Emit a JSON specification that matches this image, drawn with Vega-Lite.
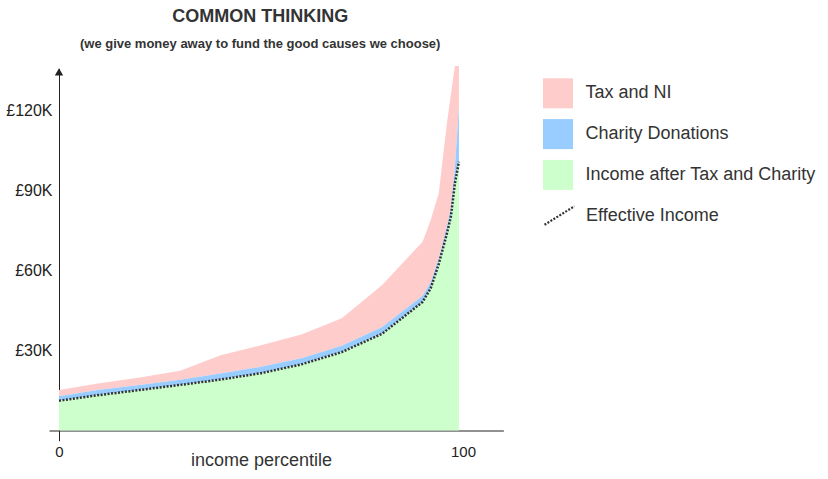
{
  "$schema": "https://vega.github.io/schema/vega-lite/v6.json",
  "autosize": {"type": "none"},
  "padding": {"left": 49, "top": 68.4, "right": 324.6, "bottom": 38.3},
  "width": 454.4,
  "height": 372.3,
  "config": {"font": "Liberation Sans", "view": {"stroke": null}},
  "title": {
    "text": "COMMON THINKING",
    "subtitle": "(we give money away to fund the good causes we choose)",
    "anchor": "middle",
    "frame": "group",
    "dx": -16,
    "dy": -11,
    "font": "Liberation Sans",
    "subtitleFont": "Liberation Sans",
    "fontSize": 18,
    "fontWeight": "bold",
    "subtitleFontSize": 13,
    "subtitleFontWeight": "bold",
    "color": "#333",
    "subtitleColor": "#333",
    "subtitlePadding": 12
  },
  "data": {
    "values": [
      {"percentile": 0, "gross_income": 15.2, "income_after_tax": 12.8, "income_after_tax_and_charity": 11.2, "effective_income": 11.2},
      {"percentile": 10, "gross_income": 17.7, "income_after_tax": 15.3, "income_after_tax_and_charity": 13.3, "effective_income": 13.3},
      {"percentile": 20, "gross_income": 19.9, "income_after_tax": 17.1, "income_after_tax_and_charity": 15.2, "effective_income": 15.2},
      {"percentile": 30, "gross_income": 22.4, "income_after_tax": 19.0, "income_after_tax_and_charity": 17.1, "effective_income": 17.1},
      {"percentile": 40, "gross_income": 28.2, "income_after_tax": 21.4, "income_after_tax_and_charity": 19.1, "effective_income": 19.1},
      {"percentile": 50, "gross_income": 32.0, "income_after_tax": 23.9, "income_after_tax_and_charity": 21.5, "effective_income": 21.5},
      {"percentile": 60, "gross_income": 36.0, "income_after_tax": 27.1, "income_after_tax_and_charity": 24.8, "effective_income": 24.8},
      {"percentile": 70, "gross_income": 42.1, "income_after_tax": 31.8, "income_after_tax_and_charity": 29.4, "effective_income": 29.4},
      {"percentile": 80, "gross_income": 54.6, "income_after_tax": 38.8, "income_after_tax_and_charity": 36.3, "effective_income": 36.3},
      {"percentile": 90, "gross_income": 70.8, "income_after_tax": 50.5, "income_after_tax_and_charity": 48.2, "effective_income": 48.2},
      {"percentile": 92, "gross_income": 78.9, "income_after_tax": 55.6, "income_after_tax_and_charity": 53.3, "effective_income": 53.3},
      {"percentile": 94, "gross_income": 89.0, "income_after_tax": 64.5, "income_after_tax_and_charity": 62.4, "effective_income": 62.4},
      {"percentile": 96, "gross_income": 115.0, "income_after_tax": 76.4, "income_after_tax_and_charity": 73.7, "effective_income": 73.7},
      {"percentile": 97, "gross_income": 126.0, "income_after_tax": 83.5, "income_after_tax_and_charity": 80.2, "effective_income": 80.2},
      {"percentile": 98, "gross_income": 136.7, "income_after_tax": 98.9, "income_after_tax_and_charity": 92.7, "effective_income": 92.7},
      {"percentile": 99, "gross_income": 136.7, "income_after_tax": 121.4, "income_after_tax_and_charity": 100.8, "effective_income": 100.8}
    ]
  },
  "encoding": {
    "x": {
      "field": "percentile",
      "type": "quantitative",
      "scale": {"domain": [-2.475, 110], "nice": false, "zero": false},
      "axis": {
        "title": "income percentile",
        "values": [0, 100],
        "offset": -10.2,
        "ticks": false,
        "grid": false,
        "domainColor": "#222",
        "domainWidth": 1,
        "labelFontSize": 15,
        "labelColor": "#222",
        "labelBaseline": "alphabetic",
        "labelPadding": 26,
        "labelFlush": false,
        "labelOverlap": false,
        "titleFontSize": 18,
        "titleFontWeight": "normal",
        "titleColor": "#333",
        "titleX": 212,
        "titleY": 34.5,
        "titleBaseline": "alphabetic",
        "titleAlign": "center"
      }
    }
  },
  "layer": [
    {
      "mark": {"type": "area", "opacity": 1},
      "encoding": {
        "y": {
          "field": "gross_income",
          "type": "quantitative",
          "scale": {"domain": [-3.82, 135.77], "nice": false, "zero": false},
          "axis": {
            "title": null,
            "values": [30, 60, 90, 120],
            "labelExpr": "'£' + datum.value + 'K'",
            "offset": -10,
            "ticks": false,
            "grid": false,
            "domainColor": "#222",
            "domainWidth": 1,
            "labelFontSize": 16,
            "labelColor": "#222",
            "labelPadding": 7
          }
        },
        "y2": {"field": "income_after_tax"},
        "color": {
          "datum": "Tax and NI",
          "type": "nominal",
          "scale": {
            "domain": ["Tax and NI", "Charity Donations", "Income after Tax and Charity"],
            "range": ["#ffcccc", "#99ccff", "#ccffcc"]
          },
          "legend": {
            "title": null,
            "orient": "none",
            "legendX": 494,
            "legendY": 9.9,
            "symbolType": "square",
            "symbolSize": 900,
            "symbolStrokeWidth": 0,
            "symbolOpacity": 1,
            "labelFontSize": 18,
            "labelColor": "#333",
            "labelOffset": 12.5,
            "labelLimit": 400,
            "rowPadding": 10.8,
            "padding": 0
          }
        }
      }
    },
    {
      "mark": {"type": "area", "opacity": 1},
      "encoding": {
        "y": {"field": "income_after_tax", "type": "quantitative"},
        "y2": {"field": "income_after_tax_and_charity"},
        "color": {"datum": "Charity Donations", "type": "nominal"}
      }
    },
    {
      "mark": {"type": "area", "opacity": 1},
      "encoding": {
        "y": {"field": "income_after_tax_and_charity", "type": "quantitative"},
        "y2": {"datum": 0},
        "color": {"datum": "Income after Tax and Charity", "type": "nominal"}
      }
    },
    {
      "mark": {"type": "line", "color": "#333", "strokeWidth": 2.5},
      "encoding": {
        "y": {"field": "effective_income", "type": "quantitative"},
        "strokeDash": {
          "datum": "Effective Income",
          "type": "nominal",
          "scale": {"domain": ["Effective Income"], "range": [[2, 1.5]]},
          "legend": {
            "title": null,
            "orient": "none",
            "legendX": 494,
            "legendY": 130.6,
            "symbolType": "M-1,0.62L1,-0.62",
            "symbolSize": 900,
            "symbolStrokeWidth": 2.2,
            "symbolStrokeColor": "#333",
            "symbolFillColor": "transparent",
            "labelFontSize": 18,
            "labelColor": "#333",
            "labelOffset": 10,
            "labelLimit": 400,
            "padding": 0
          }
        }
      }
    },
    {
      "transform": [{"filter": "datum.percentile == 0"}],
      "mark": {"type": "point", "shape": "triangle-up", "filled": true, "fill": "#222", "stroke": null, "size": 70, "opacity": 1},
      "encoding": {
        "y": {"datum": 134.5, "type": "quantitative"}
      }
    }
  ]
}
